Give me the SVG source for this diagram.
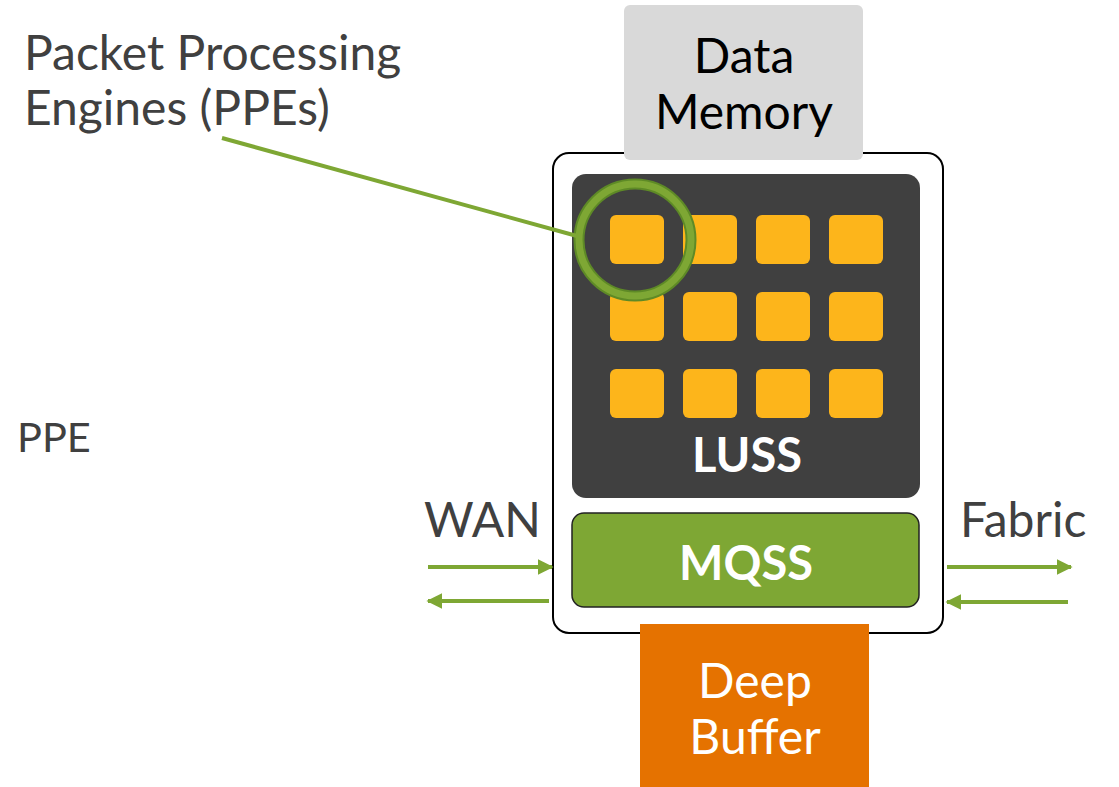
<svg xmlns="http://www.w3.org/2000/svg" width="1119" height="787" viewBox="0 0 1119 787">
<style>
.lbl{font-family:Lato,"Open Sans",sans-serif;font-size:48px;fill:#404040}
.wt{font-family:Lato,"Open Sans",sans-serif;fill:#fff;text-anchor:middle}
.ppe{fill:#fdb51b}
.conn{stroke:#7ea734;stroke-width:4;fill:none}
</style>
<defs>
<marker id="ah" viewBox="0 0 10 10" refX="9" refY="5" markerWidth="4" markerHeight="4.2" orient="auto" markerUnits="strokeWidth">
<path d="M0,0 L10,5 L0,10 z" fill="#7ea734"/>
</marker>
</defs>
<rect width="1119" height="787" fill="#fff"/>
<g id="chip">
<rect x="553" y="153" width="390" height="480" rx="16" fill="#fff" stroke="#000" stroke-width="2"/>
</g>
<g id="data-memory">
<rect x="624" y="5" width="239" height="155" rx="6" fill="#d9d9d9"/>
<text x="744" y="73" font-family="Lato,'Open Sans',sans-serif" font-size="48" fill="#000" text-anchor="middle">Data</text>
<text x="744" y="129" font-family="Lato,'Open Sans',sans-serif" font-size="48" fill="#000" text-anchor="middle">Memory</text>
</g>
<g id="luss">
<rect x="572" y="174" width="348" height="324" rx="14" fill="#404040"/>
<rect class="ppe" x="610" y="215" width="54" height="49" rx="6"/>
<rect class="ppe" x="683" y="215" width="54" height="49" rx="6"/>
<rect class="ppe" x="756" y="215" width="54" height="49" rx="6"/>
<rect class="ppe" x="829" y="215" width="54" height="49" rx="6"/>
<rect class="ppe" x="610" y="292" width="54" height="49" rx="6"/>
<rect class="ppe" x="683" y="292" width="54" height="49" rx="6"/>
<rect class="ppe" x="756" y="292" width="54" height="49" rx="6"/>
<rect class="ppe" x="829" y="292" width="54" height="49" rx="6"/>
<rect class="ppe" x="610" y="369" width="54" height="49" rx="6"/>
<rect class="ppe" x="683" y="369" width="54" height="49" rx="6"/>
<rect class="ppe" x="756" y="369" width="54" height="49" rx="6"/>
<rect class="ppe" x="829" y="369" width="54" height="49" rx="6"/>
<text class="wt" x="747" y="472" font-size="47" font-weight="bold">LUSS</text>
</g>
<g id="mqss">
<rect x="572" y="513" width="347" height="94" rx="12" fill="#7ea734" stroke="#222" stroke-width="1.5"/>
<text class="wt" x="746" y="580" font-size="47" font-weight="bold">MQSS</text>
</g>
<g id="deep-buffer">
<rect x="640" y="624" width="229" height="163" fill="#e57200"/>
<text class="wt" x="755" y="698" font-size="48">Deep</text>
<text class="wt" x="755" y="754" font-size="48">Buffer</text>
</g>
<g id="ppe-highlight">
<circle cx="635" cy="240" r="56" fill="none" stroke="#5e8a26" stroke-width="11"/>
<circle cx="635" cy="240" r="56" fill="none" stroke="#7ea734" stroke-width="7"/>
</g>
<g id="labels">
<text class="lbl" x="24" y="70">Packet Processing</text>
<text class="lbl" x="24" y="125">Engines (PPEs)</text>
<text class="lbl" x="17" y="452" style="font-size:41.5px">PPE</text>
<text class="lbl" x="424" y="537">WAN</text>
<text class="lbl" x="960" y="537">Fabric</text>
</g>
<g id="connectors">
<line class="conn" x1="222" y1="138" x2="577" y2="236" stroke-width="3"/>
<line class="conn" x1="428" y1="567" x2="552" y2="567" marker-end="url(#ah)"/>
<line class="conn" x1="549" y1="601" x2="428" y2="601" marker-end="url(#ah)"/>
<line class="conn" x1="947" y1="567" x2="1071" y2="567" marker-end="url(#ah)"/>
<line class="conn" x1="1068" y1="602" x2="947" y2="602" marker-end="url(#ah)"/>
</g>
</svg>
